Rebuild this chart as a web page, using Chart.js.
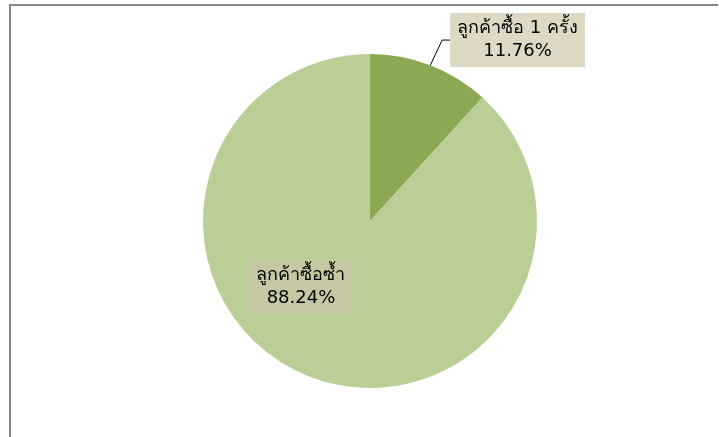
<!DOCTYPE html>
<html>
<head>
<meta charset="utf-8">
<script src="https://cdn.jsdelivr.net/npm/chart.js@4/dist/chart.umd.min.js"></script>
<style>
  html, body { margin: 0; padding: 0; background: #fff; }
  #wrap { position: relative; width: 719px; height: 437px; }
  canvas { display: block; }
</style>
</head>
<body>
<div id="wrap"><canvas id="c" width="719" height="437"></canvas></div>
<script>
// ---- data ----
const categories = ['ลูกค้าซื้อ 1 ครั้ง', 'ลูกค้าซื้อซ้ำ'];
const percentLabels = ['11.76%', '88.24%'];
const values = [11.76, 88.24];
const sliceColors = ['#8CA852', '#BACF96'];
const labelBoxColors = ['#DDD9C4', '#C6C8A4'];

// label placement: canvas-angle (deg) and distance as fraction of radius
const labelAngles = [-50.8, 136.5];
const labelDist = [1.398, 0.57];
const showLeader = [true, false];

const FONT = '18px Tahoma, "DejaVu Sans", "Noto Sans", sans-serif';

const framePlugin = {
  id: 'frame',
  beforeDraw(chart) {
    const ctx = chart.ctx;
    ctx.save();
    ctx.strokeStyle = '#878787';
    ctx.lineWidth = 2;
    ctx.beginPath();
    ctx.moveTo(10, 437);
    ctx.lineTo(10, 5);
    ctx.lineTo(718, 5);
    ctx.stroke();
    ctx.restore();
  }
};

const labelPlugin = {
  id: 'pieLabels',
  afterDatasetsDraw(chart) {
    const ctx = chart.ctx;
    const meta = chart.getDatasetMeta(0);
    ctx.save();
    ctx.font = FONT;
    ctx.textAlign = 'center';
    ctx.textBaseline = 'middle';
    meta.data.forEach((arc, i) => {
      const r = arc.outerRadius;
      const a = labelAngles[i] * Math.PI / 180;
      const cx = arc.x + Math.cos(a) * r * labelDist[i];
      const cy = arc.y + Math.sin(a) * r * labelDist[i];
      const lines = [categories[i], percentLabels[i]];
      const w = Math.max(...lines.map(t => ctx.measureText(t).width)) + 14;
      const lh = 23;
      const h = lh * lines.length + 8;
      const bx = cx - w / 2, by = cy - h / 2;
      if (showLeader[i]) {
        const mid = (arc.startAngle + arc.endAngle) / 2;
        const px = arc.x + Math.cos(mid) * r;
        const py = arc.y + Math.sin(mid) * r;
        ctx.strokeStyle = '#000';
        ctx.lineWidth = 1;
        ctx.beginPath();
        ctx.moveTo(px, py);
        ctx.lineTo(bx - 8, by + 27);
        ctx.lineTo(bx, by + 27);
        ctx.stroke();
      }
      ctx.fillStyle = labelBoxColors[i];
      ctx.fillRect(bx, by, w, h);
      ctx.fillStyle = '#000';
      lines.forEach((t, k) => {
        ctx.fillText(t, cx, by + 4 + lh * k + lh / 2);
      });
    });
    ctx.restore();
  }
};

new Chart(document.getElementById('c'), {
  type: 'pie',
  data: {
    labels: categories,
    datasets: [{
      data: values,
      backgroundColor: sliceColors,
      borderWidth: 0,
      hoverOffset: 0
    }]
  },
  options: {
    responsive: false,
    animation: false,
    events: [],
    layout: { padding: { left: 203, right: 182, top: 54, bottom: 49 } },
    plugins: {
      legend: { display: false },
      tooltip: { enabled: false }
    }
  },
  plugins: [framePlugin, labelPlugin]
});
</script>
</body>
</html>
